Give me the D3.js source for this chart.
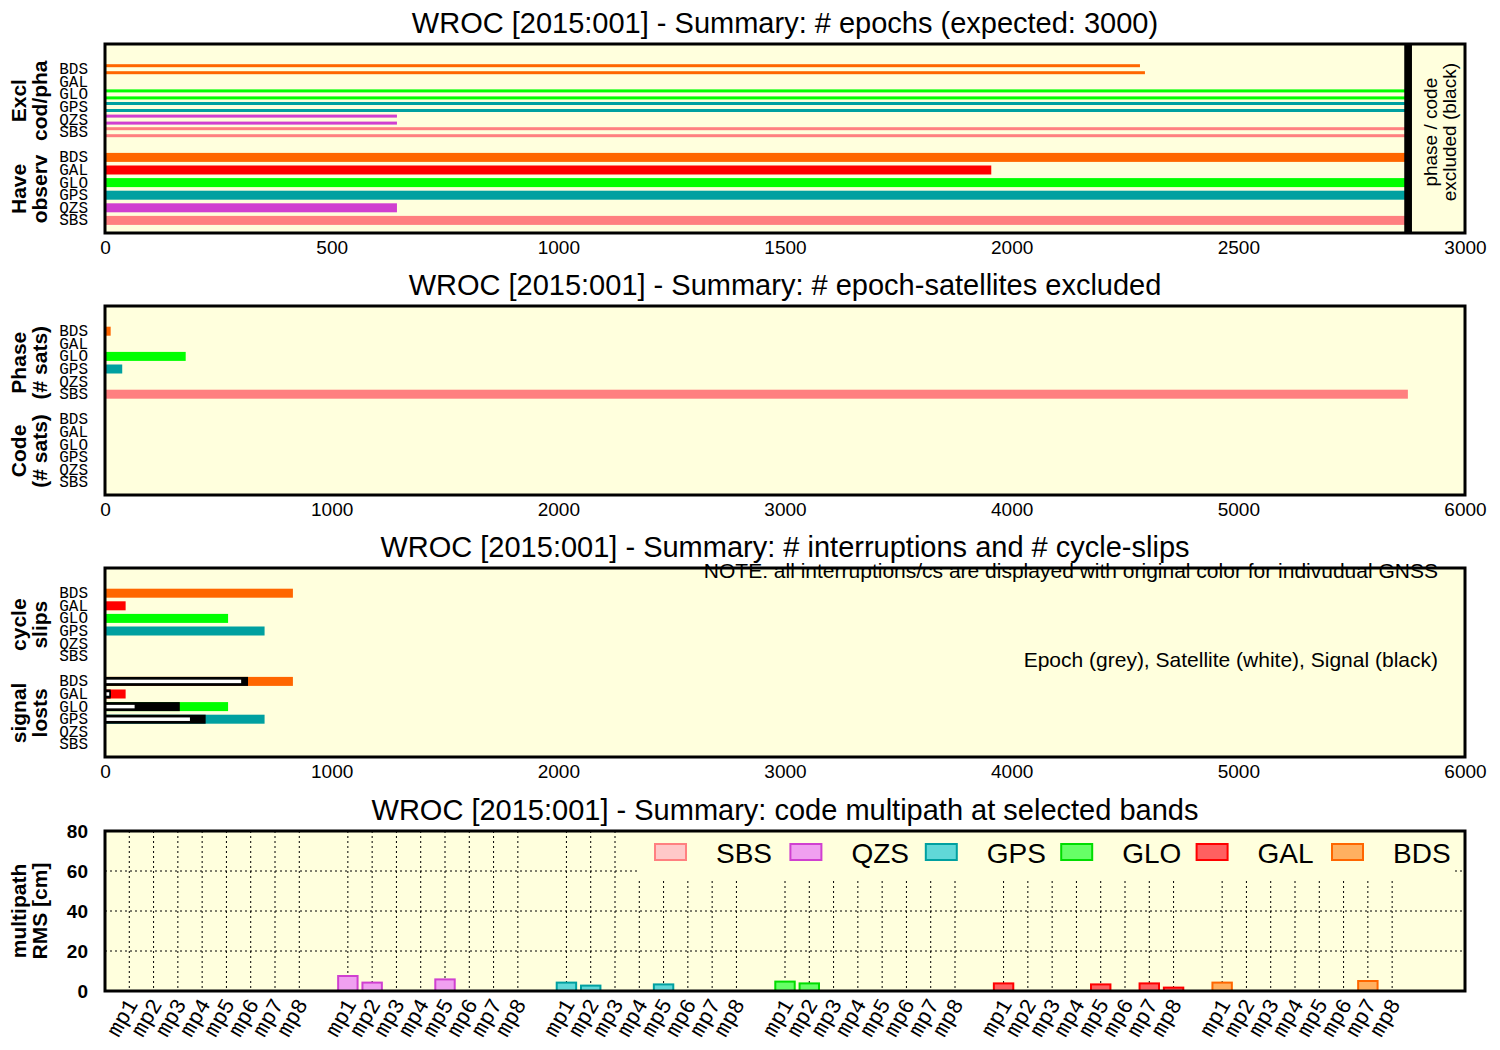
<!DOCTYPE html>
<html>
<head>
<meta charset="utf-8">
<script src="https://cdn.jsdelivr.net/npm/d3@7"></script>
<style>
  body { margin: 0; background: #fff; }
  text { font-family: "Liberation Sans", Arial, sans-serif; fill: #000; }
  .mono { font-family: "Liberation Mono", "Courier New", monospace; }
</style>
</head>
<body>
<svg id="chart" width="1500" height="1050"></svg>
<script>
// ---- data ----
const systems = ["BDS", "GAL", "GLO", "GPS", "QZS", "SBS"];
const sysColors = ["#ff6600", "#ff0000", "#00ff00", "#00a0a0", "#d040d0", "#ff8080"];

// panel 1: # epochs
const epochTicks = [0, 500, 1000, 1500, 2000, 2500, 3000];
const exclPhase = [2283, 0, 2875, 2875, 644, 2875];
const exclCode = [2294, 0, 2875, 2875, 644, 2875];
const haveObserv = [2875, 1955, 2875, 2875, 644, 2875];
const exclMarker = [2866, 2883];

// panel 2: # epoch-satellites excluded
const satTicks = [0, 1000, 2000, 3000, 4000, 5000, 6000];
const satExclPhase = [25, 0, 356, 76, 0, 5748];
const satExclCode = [0, 0, 0, 0, 0, 0];

// panel 3: interruptions / cycle slips
const cycleSlips = [829, 91, 543, 704, 3, 0];
const lostsTotal = [829, 91, 543, 704, 3, 0];
const lostsSignal = [631, 25, 330, 444, 0, 0];
const lostsSatellite = [604, 22, 134, 378, 0, 0];
const lostsEpoch = [0, 0, 0, 0, 0, 0];

// panel 4: code multipath
const mpSystems = ["SBS", "QZS", "GPS", "GLO", "GAL", "BDS"];
const mpBands = ["mp1", "mp2", "mp3", "mp4", "mp5", "mp6", "mp7", "mp8"];
const mpSBS = [null, null, null, null, null, null, null, null];
const mpQZS = [7.5, 4.2, null, null, 5.8, null, null, null];
const mpGPS = [4.2, 2.7, null, null, 3.3, null, null, null];
const mpGLO = [4.7, 3.8, null, null, null, null, null, null];
const mpGAL = [3.8, null, null, null, 3.3, null, 3.8, 1.7];
const mpBDS = [4.2, null, null, null, null, null, 5.0, null];
const mpTicks = [0, 20, 40, 60, 80];
const mpStroke = ["#ff8080", "#d040d0", "#00a0a0", "#00dd00", "#ff0000", "#ff6600"];
const mpFill = ["#ffc8c8", "#f0a0f0", "#60d8d8", "#66ff66", "#ff6060", "#ffb060"];

// ---- layout ----
const left = 105, right = 1465;
const bg = "#ffffdd";
const svg = d3.select("#chart");
svg.append("rect").attr("width", 1500).attr("height", 1050).attr("fill", "#fff");

function title(y, txt) {
  svg.append("text").attr("x", (left + right) / 2).attr("y", y)
    .attr("text-anchor", "middle").attr("dominant-baseline", "central")
    .style("font-size", "29px").text(txt);
}

function yLabel(cx, cy, lines) {
  lines.forEach((t, i) => {
    svg.append("text")
      .attr("transform", `translate(${cx + i * 21},${cy}) rotate(-90)`)
      .attr("text-anchor", "middle").attr("dominant-baseline", "central")
      .style("font-size", "21px").style("font-weight", "bold").text(t);
  });
}

// horizontal-bar panel with two groups of 6 systems
function hPanel(top, xMax, ticks, titleTxt, groupLabels) {
  const h = 189;
  const x = d3.scaleLinear().domain([0, xMax]).range([left, right]);
  const y = d3.scaleLinear().domain([-2, 13]).range([top, top + h]);
  svg.append("rect").attr("x", left).attr("y", top).attr("width", right - left)
    .attr("height", h).attr("fill", bg);
  const g = svg.append("g");
  title(top - 21, titleTxt);

  // row labels
  [0, 7].forEach(off => {
    systems.forEach((s, i) => {
      svg.append("text").attr("class", "mono").attr("x", 88).attr("y", y(off + i) + 1)
        .attr("text-anchor", "end").attr("dominant-baseline", "central")
        .style("font-size", "16px").text(s);
    });
  });
  yLabel(18, y(2.5), groupLabels[0]);
  yLabel(18, y(9.5), groupLabels[1]);

  const axis = d3.axisBottom(x).tickValues(ticks).tickFormat(d3.format("d"))
    .tickSize(0).tickPadding(8);
  const ax = svg.append("g").attr("transform", `translate(0,${top + h})`).call(axis);
  ax.select(".domain").remove();
  ax.selectAll("text").style("font-size", "19px")
    .style("font-family", '"Liberation Sans", Arial, sans-serif');

  return { g, x, y, top, h };
}

function frame(p) {
  svg.append("rect").attr("x", left).attr("y", p.top).attr("width", right - left)
    .attr("height", p.h).attr("fill", "none").attr("stroke", "#000").attr("stroke-width", 3);
}

// ---- panel 1 ----
const p1 = hPanel(44, 3000, epochTicks,
  "WROC [2015:001] - Summary: # epochs (expected: 3000)",
  [["Excl", "cod/pha"], ["Have", "observ"]]);

p1.g.selectAll(".ph").data(exclPhase).join("rect")
  .attr("x", p1.x(0)).attr("y", (d, i) => p1.y(i) - 5)
  .attr("width", d => p1.x(d) - p1.x(0)).attr("height", 3)
  .attr("fill", (d, i) => sysColors[i]);
p1.g.selectAll(".cd").data(exclCode).join("rect")
  .attr("x", p1.x(0)).attr("y", (d, i) => p1.y(i) + 2)
  .attr("width", d => p1.x(d) - p1.x(0)).attr("height", 3)
  .attr("fill", (d, i) => sysColors[i]);
p1.g.selectAll(".hv").data(haveObserv).join("rect")
  .attr("x", p1.x(0)).attr("y", (d, i) => p1.y(7 + i) - 4.5)
  .attr("width", d => p1.x(d) - p1.x(0)).attr("height", 9)
  .attr("fill", (d, i) => sysColors[i]);
p1.g.append("rect").attr("x", p1.x(exclMarker[0])).attr("y", p1.top)
  .attr("width", p1.x(exclMarker[1]) - p1.x(exclMarker[0])).attr("height", p1.h)
  .attr("fill", "#000");
["phase / code", "excluded (black)"].forEach((t, i) => {
  svg.append("text").attr("transform", `translate(${1430 + i * 19},${p1.y(5)}) rotate(-90)`)
    .attr("text-anchor", "middle").attr("dominant-baseline", "central")
    .style("font-size", "19px").text(t);
});
frame(p1);

// ---- panel 2 ----
const p2 = hPanel(306, 6000, satTicks,
  "WROC [2015:001] - Summary: # epoch-satellites excluded",
  [["Phase", "(# sats)"], ["Code", "(# sats)"]]);
[[satExclPhase, 0], [satExclCode, 7]].forEach(([arr, off]) => {
  p2.g.append("g").selectAll("rect").data(arr).join("rect")
    .attr("x", p2.x(0)).attr("y", (d, i) => p2.y(off + i) - 4.5)
    .attr("width", d => p2.x(d) - p2.x(0)).attr("height", 9)
    .attr("fill", (d, i) => sysColors[i]);
});
frame(p2);

// ---- panel 3 ----
const p3 = hPanel(568, 6000, satTicks,
  "WROC [2015:001] - Summary: # interruptions and # cycle-slips",
  [["cycle", "slips"], ["signal", "losts"]]);
p3.g.append("g").selectAll("rect").data(cycleSlips).join("rect")
  .attr("x", p3.x(0)).attr("y", (d, i) => p3.y(i) - 4.5)
  .attr("width", d => p3.x(d) - p3.x(0)).attr("height", 9)
  .attr("fill", (d, i) => sysColors[i]);
p3.g.append("g").selectAll("rect").data(lostsTotal).join("rect")
  .attr("x", p3.x(0)).attr("y", (d, i) => p3.y(7 + i) - 4.5)
  .attr("width", d => p3.x(d) - p3.x(0)).attr("height", 9)
  .attr("fill", (d, i) => sysColors[i]);
p3.g.append("g").selectAll("rect").data(lostsEpoch).join("rect")
  .attr("x", p3.x(0)).attr("y", (d, i) => p3.y(7 + i) - 4.5)
  .attr("width", d => p3.x(d) - p3.x(0)).attr("height", 9)
  .attr("fill", "#999");
p3.g.append("g").selectAll("rect").data(lostsSignal).join("rect")
  .attr("x", p3.x(0)).attr("y", (d, i) => p3.y(7 + i) - 4.5)
  .attr("width", d => p3.x(d) - p3.x(0)).attr("height", 9)
  .attr("fill", "#000");
p3.g.append("g").selectAll("rect").data(lostsSatellite.filter(d => d > 0)).join("rect")
  .attr("x", p3.x(0)).attr("y", (d, i) => p3.y(7 + i) - 2.5)
  .attr("width", d => p3.x(d) - p3.x(0)).attr("height", 5)
  .attr("fill", "#fff").attr("stroke", "#000").attr("stroke-width", 1.5);
frame(p3);
svg.append("text").attr("x", 1438).attr("y", 578).attr("text-anchor", "end")
  .style("font-size", "21px")
  .text("NOTE: all interruptions/cs are displayed with original color for indivudual GNSS");
svg.append("text").attr("x", 1438).attr("y", 667).attr("text-anchor", "end")
  .style("font-size", "21px")
  .text("Epoch (grey), Satellite (white), Signal (black)");

// ---- panel 4 ----
const p4 = { top: 831, h: 160 };
const mpData = [mpSBS, mpQZS, mpGPS, mpGLO, mpGAL, mpBDS];
const xs = d3.scaleLinear().domain([0, 56]).range([left, right]);
const ys = d3.scaleLinear().domain([0, 80]).range([p4.top + p4.h, p4.top]);
const slot = (g, k) => g * 9 + k + 1;
const slotW = xs(1) - xs(0);

svg.append("rect").attr("x", left).attr("y", p4.top).attr("width", right - left)
  .attr("height", p4.h).attr("fill", bg);
title(p4.top - 21, "WROC [2015:001] - Summary: code multipath at selected bands");

const grid = svg.append("g").attr("stroke", "#000").attr("stroke-width", 1)
  .attr("stroke-dasharray", "2,3");
grid.selectAll(".hg").data([20, 40, 60]).join("line")
  .attr("x1", left).attr("x2", right).attr("y1", d => ys(d)).attr("y2", d => ys(d));
const slots = d3.range(mpSystems.length).flatMap(g => mpBands.map((b, k) => slot(g, k)));
grid.selectAll(".vg").data(slots).join("line")
  .attr("x1", d => xs(d)).attr("x2", d => xs(d)).attr("y1", p4.top).attr("y2", p4.top + p4.h);

// legend background (opaque, hides grid)
svg.append("rect").attr("x", 637).attr("y", p4.top + 1).attr("width", 815).attr("height", 47)
  .attr("fill", bg);

const bars = svg.append("g");
mpData.forEach((arr, g) => {
  bars.append("g").selectAll("rect").data(arr.map((v, k) => ({ v, k })).filter(d => d.v != null))
    .join("rect")
    .attr("x", d => xs(slot(g, d.k)) - slotW * 0.4).attr("width", slotW * 0.8)
    .attr("y", d => ys(d.v)).attr("height", d => ys(0) - ys(d.v))
    .attr("fill", mpFill[g]).attr("stroke", mpStroke[g]).attr("stroke-width", 2);
});

// legend
mpSystems.forEach((s, i) => {
  const lx = 655 + i * 135.4;
  svg.append("rect").attr("x", lx).attr("y", 844).attr("width", 31).attr("height", 16)
    .attr("fill", mpFill[i]).attr("stroke", mpStroke[i]).attr("stroke-width", 2);
  svg.append("text").attr("x", lx + 61).attr("y", 853).attr("dominant-baseline", "central")
    .style("font-size", "28px").text(s);
});

svg.append("rect").attr("x", left).attr("y", p4.top).attr("width", right - left)
  .attr("height", p4.h).attr("fill", "none").attr("stroke", "#000").attr("stroke-width", 3);

const yax = svg.append("g").attr("transform", `translate(88,0)`)
  .call(d3.axisLeft(ys).tickValues(mpTicks).tickSize(0).tickPadding(0));
yax.select(".domain").remove();
yax.selectAll("text").style("font-size", "19px").style("font-weight", "bold")
  .style("font-family", '"Liberation Sans", Arial, sans-serif');
yLabel(18, ys(40), ["multipath", "RMS [cm]"]);

// rotated band labels
mpSystems.forEach((s, g) => {
  mpBands.forEach((b, k) => {
    svg.append("text").attr("class", "mono")
      .attr("transform", `translate(${xs(slot(g, k)) + 9},${1004}) rotate(-60)`)
      .attr("text-anchor", "end").style("font-size", "22px").text(b);
  });
});
</script>
</body>
</html>
